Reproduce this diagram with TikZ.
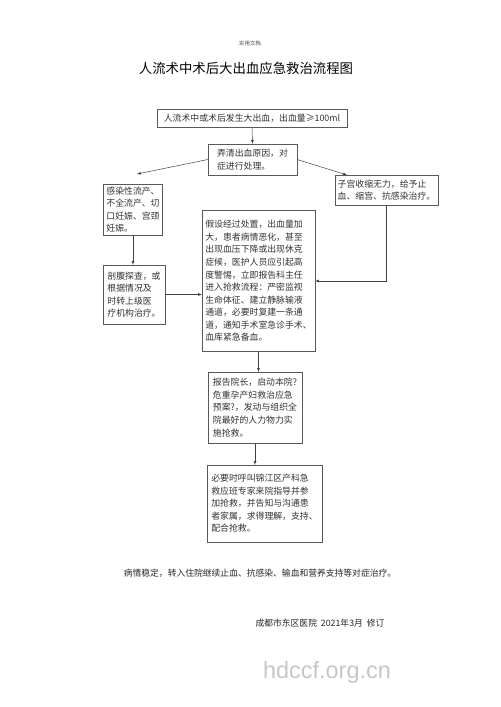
\documentclass[tikz,border=0pt]{standalone}
\usepackage{fontspec}
\setmainfont{Noto Sans CJK SC}
\newfontfamily\wmfont{Liberation Sans}
\usepackage{xcolor}

\begin{document}
\begin{tikzpicture}[x=0.042cm, y=-0.042cm,
    box/.style={draw=black!65, line width=0.6pt, align=left, inner sep=3pt, text=black!80, font=\fontsize{10.6}{15}\selectfont},
    arr/.style={-latex, line width=0.6pt, draw=black!75}]
    \useasboundingbox[fill=white] (0,0) rectangle (500,707);
    % header
    \node[font=\fontsize{6.5}{8}\selectfont, text=black!70] (head) at (250,43) {.实用文档.};
    \node[font=\fontsize{16}{18}\selectfont] (title) at (246,68) {人流术中术后大出血应急救治流程图};
    % boxes
    \node[box, align=center, minimum width=227pt, minimum height=22pt] (start) at (252,118) {人流术中或术后发生大出血，出血量≥100ml};
    \node[box, minimum width=106pt, minimum height=37pt] (cause) at (252.5,159.5) {弄清出血原因，对\\症进行处理。};
    \node[box, minimum width=71pt, minimum height=58pt] (infect) at (133,209.5) {感染性流产、\\不全流产、切\\口妊娠、宫颈\\妊娠。};
    \node[box, minimum width=115.5pt, minimum height=36pt] (uterus) at (386.5,190) {子宫收缩无力，给予止\\血、缩宫、抗感染治疗。};
    \node[box, minimum width=134.5pt, minimum height=169pt] (rescue) at (258.5,281) {假设经过处置，出血量加\\大，患者病情恶化，甚至\\出现血压下降或出现休克\\症候，医护人员应引起高\\度警惕，立即报告科主任\\进入抢救流程：严密监视\\生命体征、建立静脉输液\\通道，必要时复建一条通\\道，通知手术室急诊手术、\\血库紧急备血。};
    \node[box, minimum width=74pt, minimum height=70pt] (surgery) at (134,294.5) {剖腹探查，或\\根据情况及\\时转上级医\\疗机构治疗。};
    \node[box, minimum width=112pt, minimum height=84.5pt] (report) at (255,407.5) {报告院长，启动本院?\\危重孕产妇救治应急\\预案?，发动与组织全\\院最好的人力物力实\\施抢救。};
    \node[box, minimum width=137pt, minimum height=91.6pt] (expert) at (264.5,503.5) {必要时呼叫锦江区产科急\\救应班专家来院指导并参\\加抢救，并告知与沟通患\\者家属，求得理解，支持、\\配合抢救。};
    % free ends of the slanted arrows
    \coordinate (infectin) at (137,174);
    \coordinate (uterusin) at (347,175);
    % connectors
    \draw[arr] (start.south) -- (cause.north);
    \draw[arr] (cause.west) -- (infectin);
    \draw[arr] (cause.east) -- (uterusin);
    \draw[arr] (infect.south) -- (infect.south |- surgery.north);
    \draw[arr] (surgery.east) -- (surgery.east -| rescue.west);
    \draw[arr] (uterus.south) |- (rescue.east);
    \draw[arr] (rescue.south) -- (rescue.south |- report.north);
    \draw[arr] (report.south) -- (report.south |- expert.north);
    % footer
    \node[font=\fontsize{10.5}{12}\selectfont, text=black!85] (stable) at (260,573) {病情稳定，转入住院继续止血、抗感染、输血和营养支持等对症治疗。};
    \node[font=\fontsize{10.5}{12}\selectfont, text=black!85] (sign) at (320,623) {成都市东区医院\ \ 2021年3月\ \ 修订};
    \node[font=\wmfont\fontsize{28}{30}\selectfont, text=black!22] (mark) at (327,672) {hdccf.org.cn};
\end{tikzpicture}
\end{document}
